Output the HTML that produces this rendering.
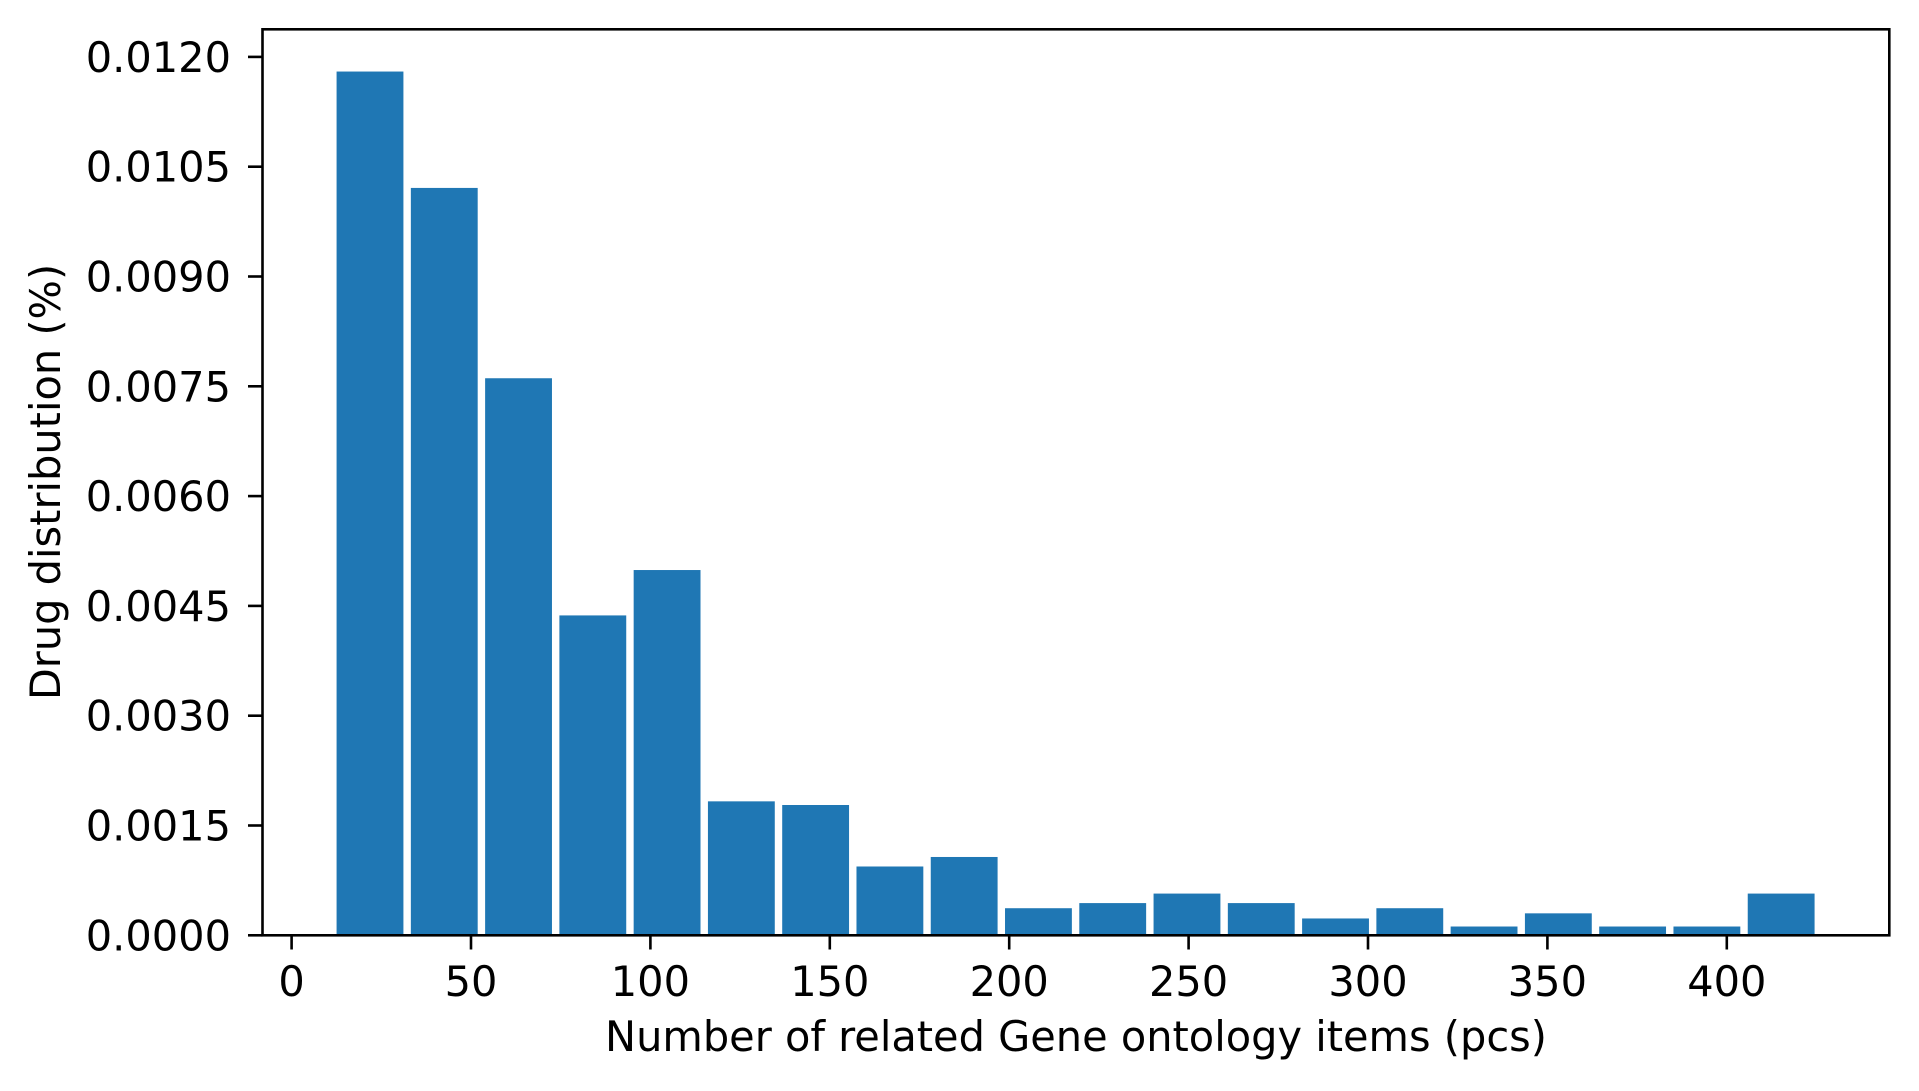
<!DOCTYPE html>
<html><head><meta charset="utf-8"><style>
html,body{margin:0;padding:0;background:#fff;}
svg{display:block;font-family:"DejaVu Sans","Liberation Sans",sans-serif;}
</style></head><body>
<svg id="chart" width="1919" height="1091" viewBox="0 0 1919 1091" xmlns="http://www.w3.org/2000/svg">
<rect width="1919" height="1091" fill="#fff"/>
<g id="bars"></g>
<g id="xticks"></g>
<g id="yticks"></g>
<rect x="262.5" y="29.3" width="1626.8" height="906" fill="none" stroke="#000" stroke-width="2.6"/>
<text x="1076" y="1051" font-size="41.5" text-anchor="middle">Number of related Gene ontology items (pcs)</text>
<text transform="translate(60,482) rotate(-90)" font-size="41.5" text-anchor="middle">Drug distribution (%)</text>
</svg>
<script>
const binStart = 11.5;
const binWidth = 20.7;
const values = [0.0118,0.01021,0.00761,0.00437,0.00499,0.00183,0.00178,0.00094,0.00107,0.00037,0.00044,0.00057,0.00044,0.00023,0.00037,0.00012,0.00030,0.00012,0.00012,0.00057];
const xTicks = [0,50,100,150,200,250,300,350,400];
const yTicks = [0.0,0.0015,0.003,0.0045,0.006,0.0075,0.009,0.0105,0.012];
const yTickLabels = ["0.0000","0.0015","0.0030","0.0045","0.0060","0.0075","0.0090","0.0105","0.0120"];

const NS = "http://www.w3.org/2000/svg";
function xs(v){ return 291.6 + v * (179.4/50); }
function ys(v){ return 935.3 - v * (109.8/0.0015); }

const gb = document.getElementById('bars');
values.forEach((v,i)=>{
  const x0 = binStart + i*binWidth + 0.05*binWidth;
  const x1 = x0 + 0.9*binWidth;
  const r = document.createElementNS(NS,'rect');
  
  
  r.setAttribute('x', xs(x0));
  r.setAttribute('width', xs(x1)-xs(x0));
  r.setAttribute('y', ys(v));
  r.setAttribute('height', ys(0)-ys(v));
  r.setAttribute('fill', '#1f77b4');
  gb.appendChild(r);
});

const gx = document.getElementById('xticks');
xTicks.forEach(t=>{
  const l = document.createElementNS(NS,'line');
  
  
  l.setAttribute('x1', xs(t)); l.setAttribute('x2', xs(t));
  l.setAttribute('y1', 935.3); l.setAttribute('y2', 949.5);
  l.setAttribute('stroke', '#000'); l.setAttribute('stroke-width', '2.6');
  gx.appendChild(l);
  const tx = document.createElementNS(NS,'text');
  
  
  tx.setAttribute('x', xs(t)); tx.setAttribute('y', 996);
  tx.setAttribute('font-size', '41.5'); tx.setAttribute('text-anchor', 'middle');
  tx.textContent = String(t);
  gx.appendChild(tx);
});

const gy = document.getElementById('yticks');
yTicks.forEach((t,i)=>{
  const l = document.createElementNS(NS,'line');
  
  
  l.setAttribute('x1', 248); l.setAttribute('x2', 262.5);
  l.setAttribute('y1', ys(t)); l.setAttribute('y2', ys(t));
  l.setAttribute('stroke', '#000'); l.setAttribute('stroke-width', '2.6');
  gy.appendChild(l);
  const tx = document.createElementNS(NS,'text');
  
  
  tx.setAttribute('x', 231); tx.setAttribute('y', ys(t)+15);
  tx.setAttribute('font-size', '41.5'); tx.setAttribute('text-anchor', 'end');
  tx.textContent = yTickLabels[i];
  gy.appendChild(tx);
});
</script>
</body></html>
